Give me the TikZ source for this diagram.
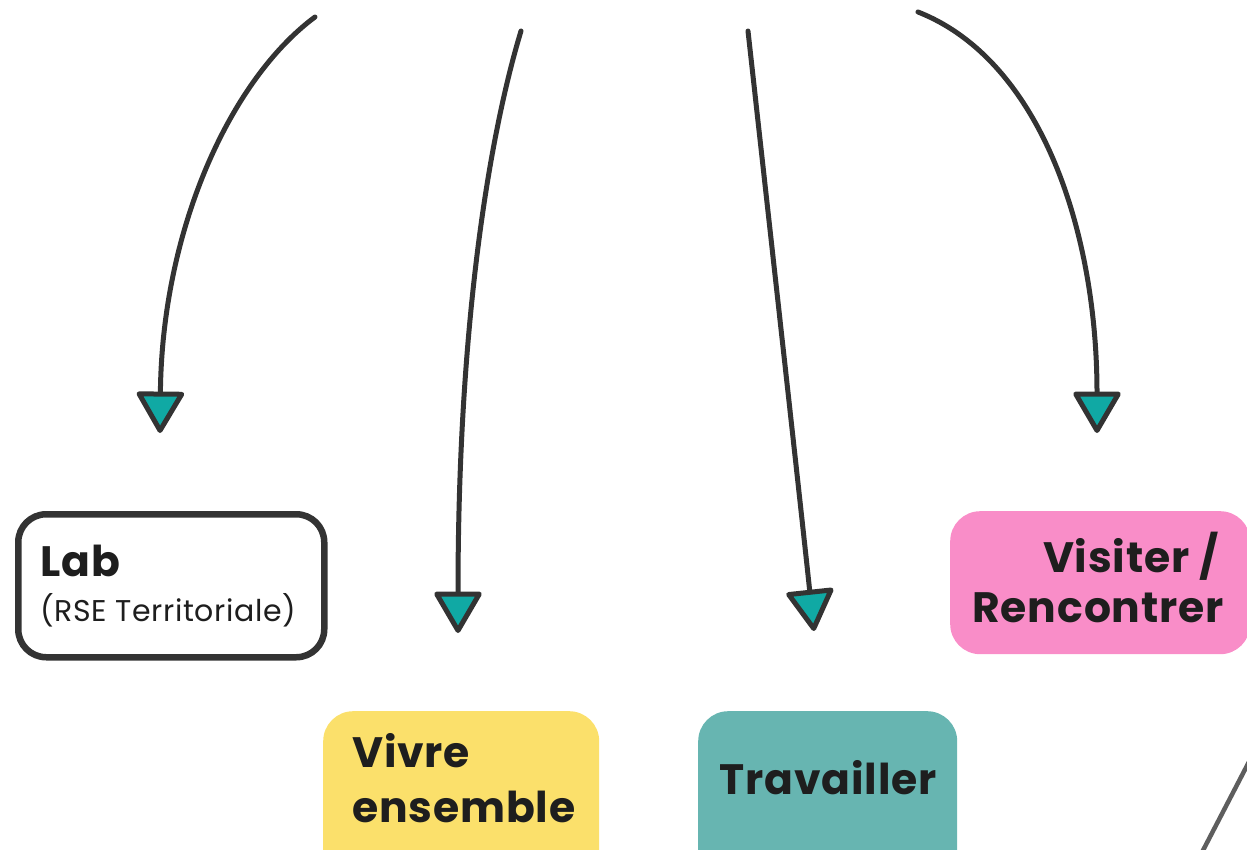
\documentclass[tikz,border=0pt]{standalone}
\usepackage{fontspec}
\setmainfont{Poppins}
\newfontfamily\medfont{Poppins}[LetterSpace=2]
\newfontfamily\lightfont{Poppins}[LetterSpace=2]
\usetikzlibrary{arrows.meta}
\definecolor{darkline}{HTML}{333333}
\definecolor{tipteal}{HTML}{10A9A4}
\definecolor{boxyellow}{HTML}{FBE06B}
\definecolor{boxteal}{HTML}{67B5B1}
\definecolor{boxpink}{HTML}{F98DC8}
\definecolor{txtdark}{HTML}{1E1E1E}
\definecolor{sidegray}{HTML}{5E5E5E}
\tikzset{
  flow/.style={draw=darkline, line width=5pt, line cap=round,
    -{Triangle[length=44pt, width=50pt, fill=tipteal, round]}},
  cbox/.style={rectangle, rounded corners=30pt, draw=none, inner sep=0pt, anchor=north west},
  bigtxt/.style={inner sep=0pt, text=txtdark, font=\medfont\fontsize{42.5}{50}\selectfont\bfseries},
  smalltxt/.style={inner sep=0pt, text=txtdark, font=\lightfont\fontsize{30}{34}\selectfont},
}
\begin{document}
\begin{tikzpicture}[x=1pt, y=-1pt]
\useasboundingbox (0,0) rectangle (1247,850);
% boxes
\node[cbox, draw=darkline, line width=6.5pt, rounded corners=28pt, minimum width=306pt, minimum height=143pt] (lab) at (15,511) {};
\node[cbox, fill=boxyellow, minimum width=276pt, minimum height=170pt] (vivre) at (323,711) {};
\node[cbox, fill=boxteal, minimum width=259pt, minimum height=170pt] (trav) at (698,711) {};
\node[cbox, fill=boxpink, minimum width=300pt, minimum height=143pt] (visit) at (950,511) {};
% texts
\node[bigtxt, anchor=base west] (labt) at (40,576) {Lab};
\node[smalltxt, anchor=base west] (labs) at (40,621) {(RSE Territoriale)};
\node[bigtxt, anchor=base west] (vivt1) at (352,767) {Vivre};
\node[bigtxt, anchor=base west] (vivt2) at (352,822) {ensemble};
\node[bigtxt, anchor=base] (travt) at (828,794) {Travailler};
\node[bigtxt, anchor=base east] (vist1) at (1219,572) {Visiter /};
\node[bigtxt, anchor=base east] (vist2) at (1224,622) {Rencontrer};
% connector end points
\coordinate (s1) at (315,17);
\coordinate (e1) at (160,433);
\coordinate (s2) at (521,31);
\coordinate (e2) at (458,633);
\coordinate (s3) at (748,31);
\coordinate (e3) at (814,631);
\coordinate (s4) at (918,12);
\coordinate (e4) at (1097,433);
\draw[flow] (s1) .. controls (230,80) and (162,230) .. (e1);
\draw[flow] (s2) .. controls (488,140) and (458,330) .. (e2);
\draw[flow] (s3) .. controls (780,320) and (800,500) .. (e3);
\draw[flow] (s4) .. controls (1040,60) and (1097,230) .. (e4);
% side line
\coordinate (g1) at (1252,756);
\coordinate (g2) at (1198,860);
\draw[sidegray, line width=4.5pt] (g1) -- (g2);
\end{tikzpicture}
\end{document}
